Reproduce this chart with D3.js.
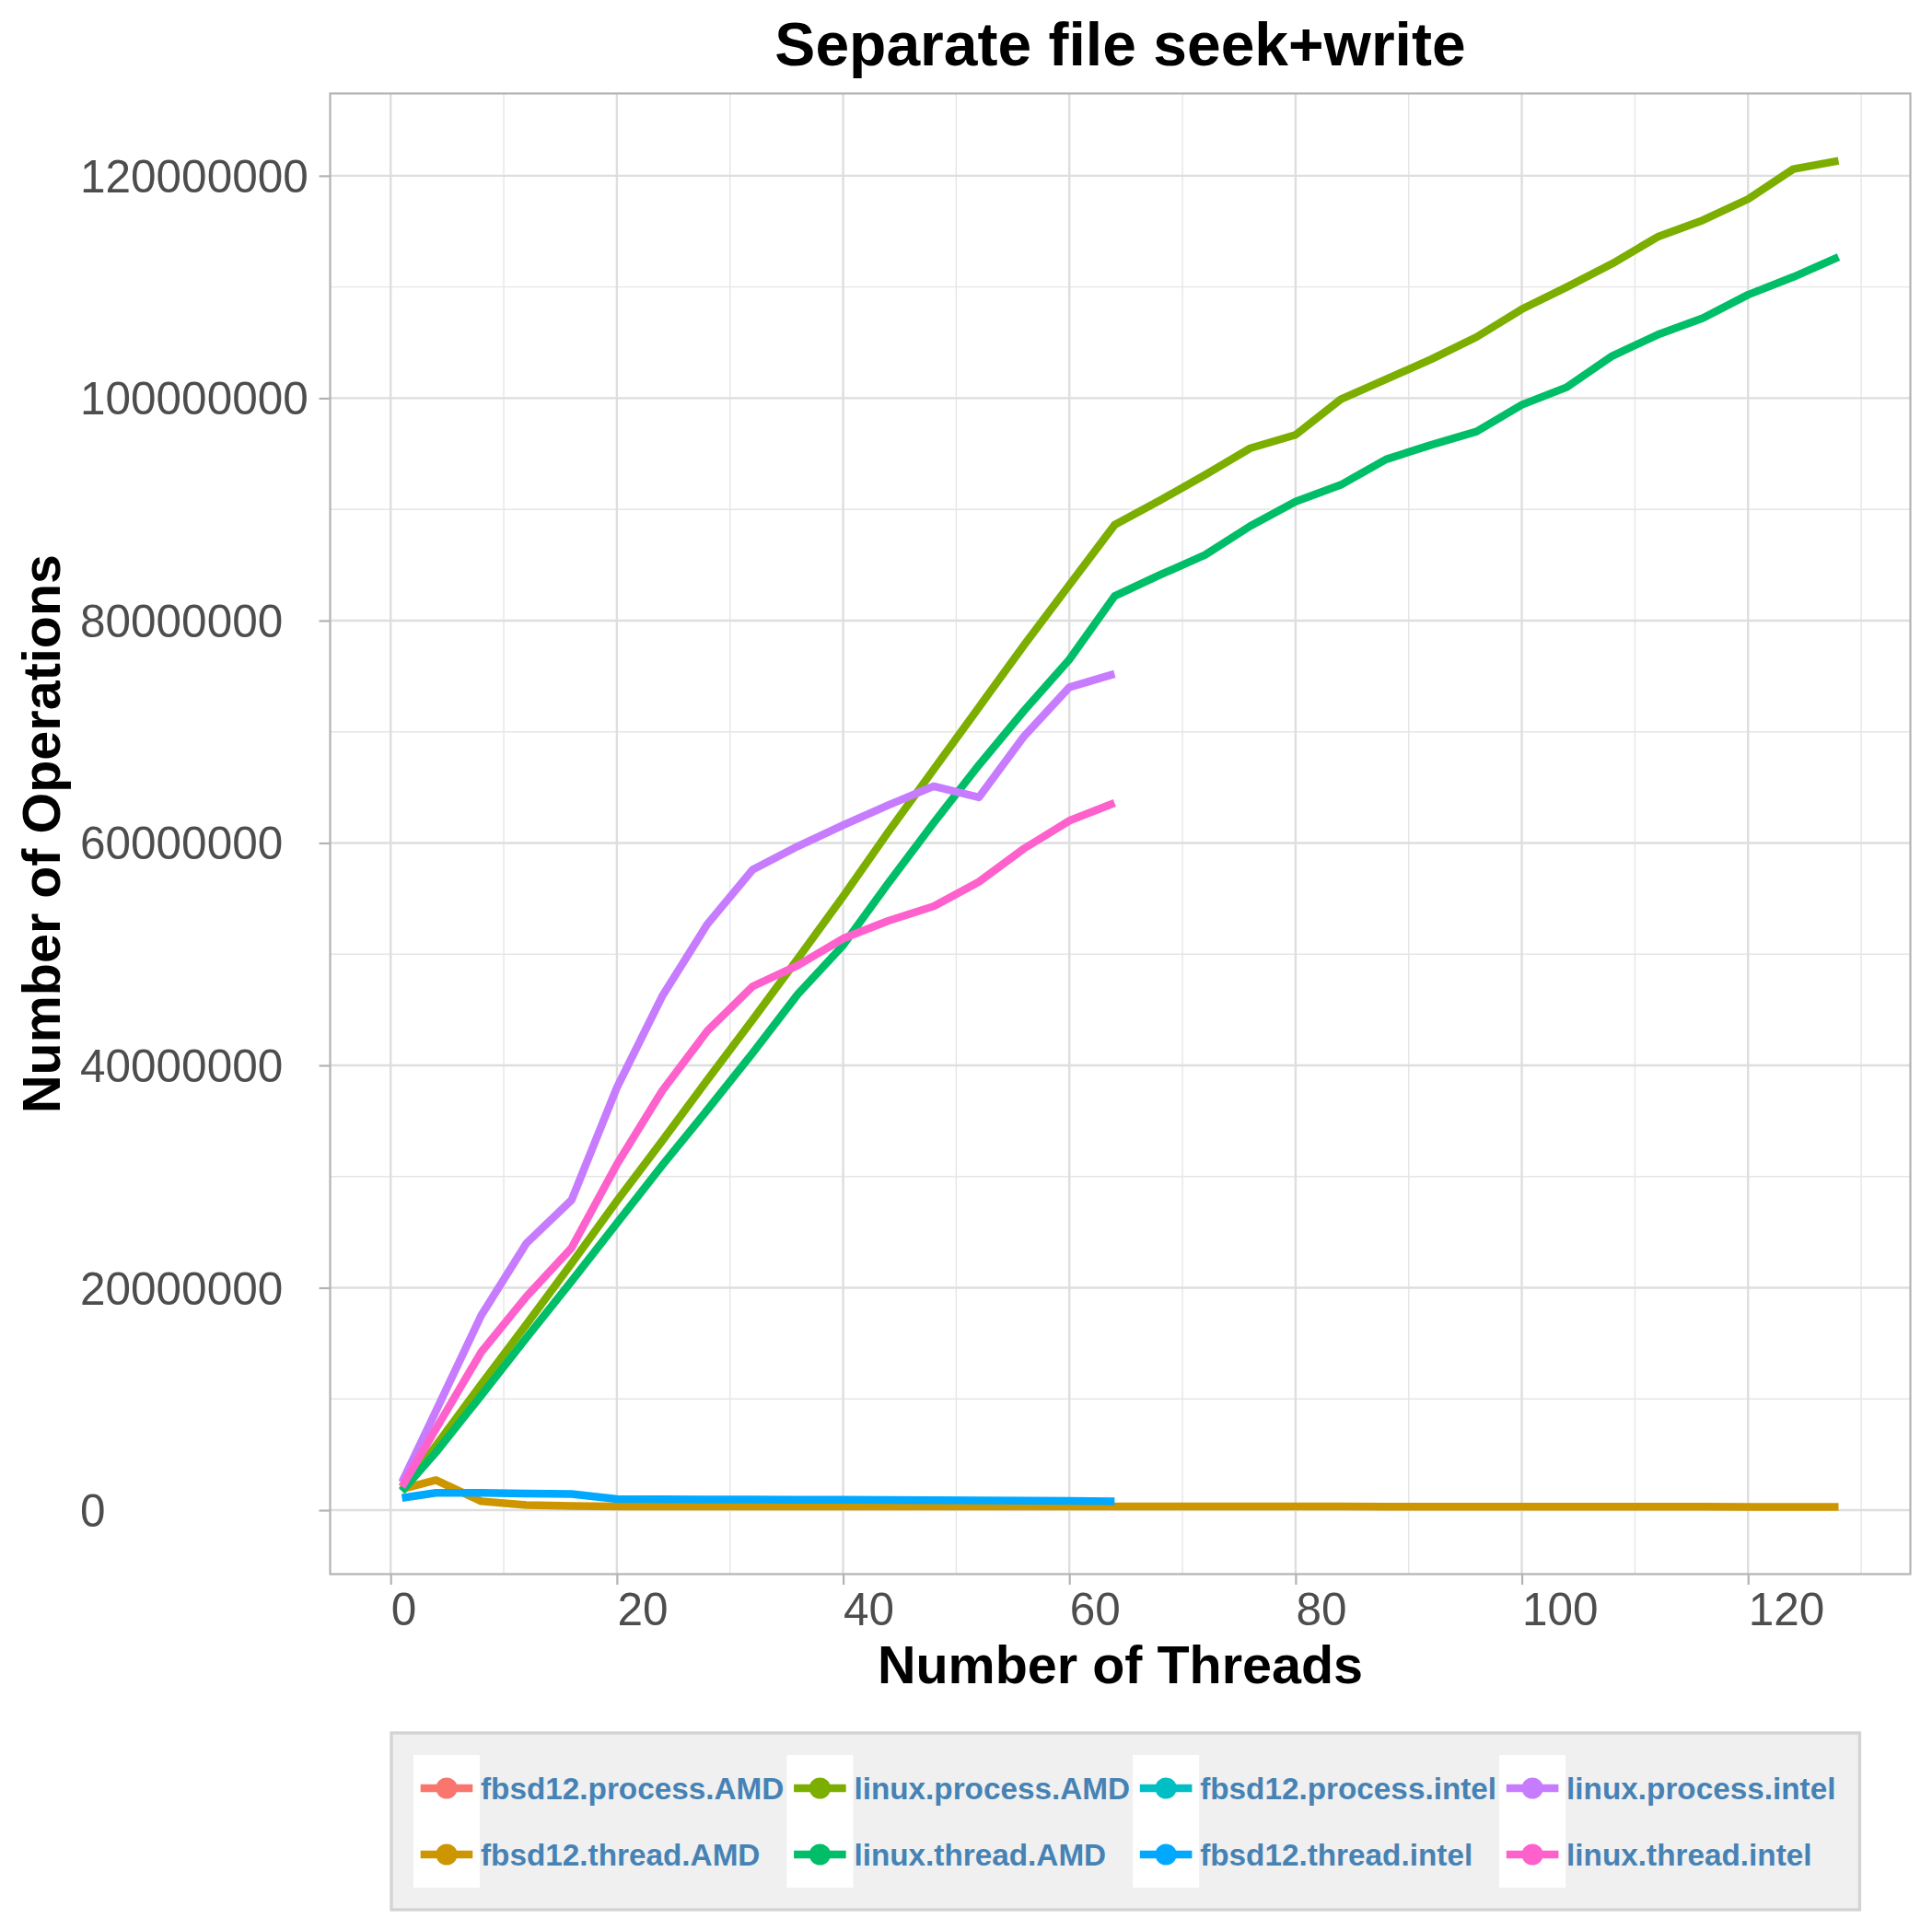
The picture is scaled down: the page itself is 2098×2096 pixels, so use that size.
<!DOCTYPE html>
<html>
<head>
<meta charset="utf-8">
<script src="https://cdn.jsdelivr.net/npm/d3@7"></script>
<style>
  html, body { margin: 0; padding: 0; background: #ffffff; }
  svg { display: block; }
  text { font-family: "Liberation Sans", Arial, Helvetica, sans-serif; }
</style>
</head>
<body>
<svg id="chart" width="2098" height="2096"></svg>
<script>
// ---------------- data (values in millions of operations) ----------------
const threadsAMD = [1,4,8,12,16,20,24,28,32,36,40,44,48,52,56,60,64,68,72,76,80,84,88,92,96,100,104,108,112,116,120,124,128];
const threadsIntel = [1,4,8,12,16,20,24,28,32,36,40,44,48,52,56,60,64];

const seriesNames = [
  "fbsd12.process.AMD", "fbsd12.thread.AMD", "linux.process.AMD", "linux.thread.AMD",
  "fbsd12.process.intel", "fbsd12.thread.intel", "linux.process.intel", "linux.thread.intel"
];
const seriesColors = ["#F8766D", "#CD9600", "#7CAE00", "#00BE67", "#00BFC4", "#00A9FF", "#C77CFF", "#FF61CC"];

const fbsd12ProcessAMD = [];
const fbsd12ThreadAMD = [1.9,2.7,0.8,0.45,0.38,0.34,0.33,0.33,0.33,0.33,0.33,0.33,0.33,0.33,0.33,0.33,0.33,0.33,0.33,0.33,0.33,0.33,0.32,0.32,0.32,0.32,0.32,0.31,0.31,0.31,0.30,0.30,0.30];
const linuxProcessAMD = [1.8,5.8,11.3,16.7,22.2,27.8,33.2,38.7,44.1,49.6,55.2,61.0,66.6,72.2,77.8,83.2,88.6,90.8,93.1,95.5,96.7,99.9,101.7,103.5,105.5,108.0,110.0,112.1,114.5,116.0,117.9,120.6,121.35];
const linuxThreadAMD = [1.7,5.2,10.3,15.5,20.6,25.8,31.0,36.0,41.1,46.4,50.8,56.4,61.8,67.0,71.9,76.5,82.2,84.1,85.9,88.5,90.7,92.2,94.5,95.8,97.0,99.4,101.0,103.8,105.7,107.2,109.3,110.9,112.7];
const fbsd12ProcessIntel = [];
const fbsd12ThreadIntel = [1.1,1.55,1.55,1.5,1.45,1.0,0.97,0.96,0.95,0.94,0.93,0.91,0.9,0.88,0.86,0.84,0.78];
const linuxProcessIntel = [2.5,8.9,17.5,24.0,27.9,38.0,46.2,52.7,57.6,59.7,61.6,63.4,65.1,64.1,69.6,74.0,75.2];
const linuxThreadIntel = [2.1,7.3,14.2,19.2,23.6,31.1,37.7,43.1,47.1,49.0,51.4,53.0,54.3,56.5,59.5,62.0,63.6];

const seriesValues = [fbsd12ProcessAMD, fbsd12ThreadAMD, linuxProcessAMD, linuxThreadAMD,
                      fbsd12ProcessIntel, fbsd12ThreadIntel, linuxProcessIntel, linuxThreadIntel];
const seriesThreads = [threadsAMD, threadsAMD, threadsAMD, threadsAMD,
                       threadsIntel, threadsIntel, threadsIntel, threadsIntel];

const xTicks = [0,20,40,60,80,100,120];
const xMinor = [10,30,50,70,90,110,130];
const yTicks = [0,20000000,40000000,60000000,80000000,100000000,120000000];
const yMinor = [10000000,30000000,50000000,70000000,90000000,110000000];

const titleText = "Separate file seek+write";
const xTitle = "Number of Threads";
const yTitle = "Number of Operations";

// ---------------- build series ----------------
const series = seriesNames.map((name, i) => ({
  name,
  color: seriesColors[i],
  points: seriesValues[i].map((v, j) => ({ x: seriesThreads[i][j], y: v * 1e6 }))
}));

// ---------------- layout ----------------
const panel = { left: 358.5, right: 2074.5, top: 101.5, bottom: 1709.5 };
const svg = d3.select("#chart");

const allPts = series.flatMap(s => s.points);
const xExt = d3.extent(allPts, d => d.x);
const yExt = d3.extent(allPts, d => d.y);
const xPad = (xExt[1] - xExt[0]) * 0.05;
const yPad = (yExt[1] - yExt[0]) * 0.05;

const x = d3.scaleLinear().domain([xExt[0] - xPad, xExt[1] + xPad]).range([panel.left, panel.right]);
const y = d3.scaleLinear().domain([yExt[0] - yPad, yExt[1] + yPad]).range([panel.bottom, panel.top]);

// background
svg.append("rect").attr("x", 0).attr("y", 0).attr("width", 2098).attr("height", 2096).attr("fill", "#ffffff");

// clip
svg.append("defs").append("clipPath").attr("id", "panelClip")
  .append("rect").attr("x", panel.left).attr("y", panel.top)
  .attr("width", panel.right - panel.left).attr("height", panel.bottom - panel.top);

const grid = svg.append("g");
// minor grid
grid.selectAll(".xminor").data(xMinor).join("line")
  .attr("x1", d => x(d)).attr("x2", d => x(d))
  .attr("y1", panel.top).attr("y2", panel.bottom)
  .attr("stroke", "#E6E6E6").attr("stroke-width", 1.4);
grid.selectAll(".yminor").data(yMinor).join("line")
  .attr("y1", d => y(d)).attr("y2", d => y(d))
  .attr("x1", panel.left).attr("x2", panel.right)
  .attr("stroke", "#E6E6E6").attr("stroke-width", 1.4);
// major grid
grid.selectAll(".xmajor").data(xTicks).join("line")
  .attr("x1", d => x(d)).attr("x2", d => x(d))
  .attr("y1", panel.top).attr("y2", panel.bottom)
  .attr("stroke", "#DEDEDE").attr("stroke-width", 2.4);
grid.selectAll(".ymajor").data(yTicks).join("line")
  .attr("y1", d => y(d)).attr("y2", d => y(d))
  .attr("x1", panel.left).attr("x2", panel.right)
  .attr("stroke", "#DEDEDE").attr("stroke-width", 2.4);

// lines
const line = d3.line().x(d => x(d.x)).y(d => y(d.y));
svg.append("g").attr("clip-path", "url(#panelClip)")
  .selectAll("path").data(series.filter(s => s.points.length > 0)).join("path")
  .attr("d", d => line(d.points))
  .attr("fill", "none")
  .attr("stroke", d => d.color)
  .attr("stroke-width", 8.5)
  .attr("stroke-linejoin", "round")
  .attr("stroke-linecap", "butt");

// panel border
svg.append("rect")
  .attr("x", panel.left).attr("y", panel.top)
  .attr("width", panel.right - panel.left).attr("height", panel.bottom - panel.top)
  .attr("fill", "none").attr("stroke", "#B3B3B3").attr("stroke-width", 2.2);

// axes (ticks + labels)
const tickCol = "#B3B3B3";
const labCol = "#4D4D4D";
const tickFont = 49.5;

const xAxis = d3.axisBottom(x).tickValues(xTicks).tickSize(11.5).tickPadding(0).tickFormat(d3.format("d"));
const gx = svg.append("g").attr("transform", `translate(0,${panel.bottom})`).call(xAxis);
gx.select(".domain").remove();
gx.selectAll(".tick line").attr("stroke", tickCol).attr("stroke-width", 2.2);
gx.selectAll(".tick text")
  .attr("fill", labCol).attr("font-size", tickFont)
  .attr("text-anchor", "start")
  .attr("dy", null)
  .attr("y", 1765 - panel.bottom)
  .attr("x", 0)
  .style("font-family", '"Liberation Sans", Arial, sans-serif');

const yAxis = d3.axisLeft(y).tickValues(yTicks).tickSize(12).tickPadding(0).tickFormat(d3.format("d"));
const gy = svg.append("g").attr("transform", `translate(${panel.left},0)`).call(yAxis);
gy.select(".domain").remove();
gy.selectAll(".tick line").attr("stroke", tickCol).attr("stroke-width", 2.2);
gy.selectAll(".tick text")
  .attr("fill", labCol).attr("font-size", tickFont)
  .attr("text-anchor", "start")
  .attr("x", 87 - panel.left)
  .attr("dy", null)
  .attr("y", 17.5)
  .style("font-family", '"Liberation Sans", Arial, sans-serif');

// titles
const cx = (panel.left + panel.right) / 2;
const cy = (panel.top + panel.bottom) / 2;
svg.append("text").attr("x", cx).attr("y", 70.5).attr("text-anchor", "middle")
  .attr("font-size", 66).attr("font-weight", "bold").attr("fill", "#000").text(titleText);
svg.append("text").attr("x", cx).attr("y", 1828).attr("text-anchor", "middle")
  .attr("font-size", 57.5).attr("font-weight", "bold").attr("fill", "#000").text(xTitle);
svg.append("text").attr("transform", `translate(65,${cy}) rotate(-90)`).attr("text-anchor", "middle")
  .attr("font-size", 57.5).attr("font-weight", "bold").attr("fill", "#000").text(yTitle);

// legend
const legBox = { left: 425, top: 1882, bottom: 2074, padX: 24, padY: 24 };
const keySize = 72;
const legFont = 33.3;
const legend = svg.append("g");
const legBg = legend.append("rect");
const nRows = 2;
const nCols = Math.ceil(series.length / nRows);
let colX = legBox.left + legBox.padX;
let lastRight = colX;
for (let c = 0; c < nCols; c++) {
  let maxW = 0;
  for (let r = 0; r < nRows; r++) {
    const idx = c * nRows + r;
    if (idx >= series.length) continue;
    const s = series[idx];
    const ky = legBox.top + legBox.padY + r * keySize;
    legend.append("rect").attr("x", colX).attr("y", ky).attr("width", keySize).attr("height", keySize).attr("fill", "#ffffff");
    legend.append("line")
      .attr("x1", colX + 7.7).attr("x2", colX + keySize - 7.7)
      .attr("y1", ky + keySize / 2).attr("y2", ky + keySize / 2)
      .attr("stroke", s.color).attr("stroke-width", 8.5);
    legend.append("circle").attr("cx", colX + keySize / 2).attr("cy", ky + keySize / 2).attr("r", 11.6).attr("fill", s.color);
    const t = legend.append("text")
      .attr("x", colX + keySize + 1).attr("y", ky + keySize / 2 + 11.8)
      .attr("font-size", legFont).attr("font-weight", "bold").attr("fill", "#4682B4")
      .text(s.name);
    maxW = Math.max(maxW, t.node().getComputedTextLength());
  }
  lastRight = colX + keySize + 1 + maxW;
  colX = lastRight + 3;
}
legBg.attr("x", legBox.left).attr("y", legBox.top)
  .attr("width", lastRight + 26 - legBox.left).attr("height", legBox.bottom - legBox.top)
  .attr("fill", "#F0F0F0").attr("stroke", "#D3D3D3").attr("stroke-width", 3.3);
</script>
</body>
</html>
